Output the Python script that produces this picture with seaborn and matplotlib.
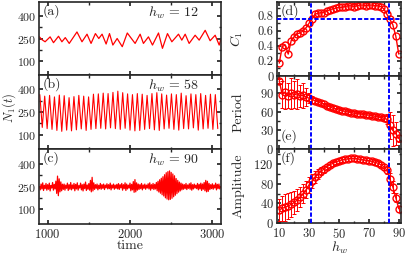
import numpy as np
import pandas as pd
import matplotlib
matplotlib.use("Agg")
import matplotlib.pyplot as plt
import seaborn as sns
from matplotlib.ticker import MultipleLocator, FixedLocator

# ---------------- data ----------------
# panel (a) h_w = 12 : extrema of N1(t)
ta = [900, 929, 969, 1030, 1071, 1132, 1173, 1214, 1262, 1356, 1417, 1478, 1527, 1580,
      1621, 1661, 1710, 1751, 1792, 1844, 1906, 1967, 2062, 2123, 2163, 2224, 2273, 2346,
      2394, 2455, 2508, 2589, 2629, 2670, 2718, 2791, 2840, 2913, 2973, 3034, 3083, 3100]
na = [261, 243, 228, 261, 222, 265, 228, 256, 217, 294, 228, 279, 217, 283,
      250, 279, 213, 283, 206, 250, 195, 287, 217, 279, 217, 261, 206, 287,
      184, 283, 228, 279, 239, 279, 217, 272, 239, 305, 235, 272, 206, 239]

# panel (b) h_w = 58 : alternating peaks / troughs
peaks_b = [365, 355, 360, 350, 362, 358, 345, 352, 360, 355, 350, 368, 370, 375, 372, 380,
           388, 378, 370, 365, 372, 368, 360, 372, 378, 370, 362, 370, 365, 375, 358, 370,
           365, 372, 360, 368, 365]
troughs_b = [148, 140, 135, 128, 122, 130, 125, 132, 138, 128, 135, 140, 142, 138, 145, 140,
             135, 142, 130, 125, 128, 135, 140, 132, 128, 138, 142, 135, 130, 140, 138, 145,
             130, 138, 142, 135, 140]
tb_start, tb_step = 905, 29.6

# panel (c) h_w = 90 : sampled every 10 time units from 900
nc = [250, 228, 266, 234, 274, 224, 258, 236, 270, 226,
      262, 232, 272, 221, 256, 240, 276, 226, 264, 234,
      285, 205, 318, 190, 300, 215, 280, 222, 265, 231,
      266, 226, 259, 238, 272, 224, 262, 232, 276, 228,
      260, 236, 270, 222, 264, 234, 274, 226, 256, 240,
      272, 228, 262, 221, 266, 236, 279, 224, 260, 232,
      269, 226, 290, 215, 310, 221, 274, 231, 262, 238,
      266, 228, 258, 236, 270, 232, 262, 238, 266, 230,
      259, 241, 268, 234, 262, 236, 272, 228, 260, 240,
      266, 232, 259, 238, 264, 234, 269, 231, 262, 241,
      270, 226, 262, 236, 274, 224, 266, 234, 259, 240,
      272, 222, 264, 228, 282, 212, 295, 215, 274, 226,
      266, 231, 262, 236, 270, 228, 260, 238, 266, 232,
      259, 240, 268, 234, 274, 226, 262, 236, 270, 230,
      264, 234, 276, 222, 284, 214, 294, 206, 304, 196,
      314, 188, 327, 176, 340, 168, 347, 163, 352, 166,
      342, 173, 332, 183, 320, 193, 302, 203, 290, 213,
      279, 221, 272, 228, 266, 232, 262, 236, 270, 230,
      260, 238, 268, 232, 274, 226, 262, 234, 266, 240,
      259, 236, 270, 228, 264, 234, 272, 224, 266, 232,
      276, 222, 290, 215, 284, 218, 270, 230, 262, 236,
      268, 232, 260, 240, 272, 228, 264, 236, 266, 234,
      250]

# right column
hw = list(range(10, 91, 2))
C1 = [0.17, 0.39, 0.41, 0.29, 0.47, 0.52, 0.56, 0.57, 0.60, 0.64, 0.70, 0.76, 0.82, 0.83,
      0.84, 0.84, 0.86, 0.88, 0.89, 0.90, 0.91, 0.91, 0.92, 0.93, 0.93, 0.92, 0.93, 0.94,
      0.94, 0.93, 0.94, 0.94, 0.93, 0.93, 0.92, 0.89, 0.82, 0.75, 0.68, 0.53, 0.29]
period = [110, 88, 92, 86, 90, 88, 89, 86, 87, 84, 82, 80, 78, 76, 74, 72, 70, 68, 66, 64,
          63, 62, 61, 60, 59, 58, 57, 57, 56, 55, 55, 54, 53, 52, 51, 50, 48, 38, 30, 25, 17]
period_err = [3, 22, 28, 20, 25, 22, 24, 18, 20, 14, 8, 5, 4, 4, 3, 3, 3, 3, 3, 3,
              3, 3, 3, 3, 3, 3, 3, 3, 3, 3, 3, 3, 3, 3, 3, 4, 8, 22, 25, 18, 6]
amp = [27, 30, 32, 35, 38, 42, 47, 53, 60, 68, 78, 86, 94, 100, 106, 110, 115, 119, 122, 125,
       127, 129, 130, 131, 132, 132, 131, 130, 129, 128, 127, 126, 124, 122, 119, 115, 108,
       90, 74, 52, 29]
amp_err = [22, 25, 28, 26, 25, 24, 22, 20, 20, 18, 16, 14, 12, 10, 8, 7, 5, 5, 5, 5,
           5, 5, 5, 5, 5, 5, 5, 5, 5, 5, 5, 5, 5, 5, 5, 6, 8, 12, 12, 10, 6]

hw_lines = [31.5, 83.5]
c1_line = 0.75
hw_labels = ["12", "58", "90"]

# ---------------- style ----------------
sns.set_theme(style="ticks")
plt.rcParams.update({
    "font.family": "serif",
    "font.serif": ["cmr10", "DejaVu Serif"],
    "mathtext.fontset": "cm",
    "axes.formatter.use_mathtext": True,
    "font.size": 9.5,
    "axes.linewidth": 1.2,
    "xtick.direction": "in",
    "ytick.direction": "in",
    "xtick.top": True,
    "ytick.right": True,
    "xtick.major.size": 3,
    "ytick.major.size": 3,
    "xtick.minor.size": 1.8,
    "ytick.minor.size": 1.8,
    "xtick.labelsize": 9.0,
    "ytick.labelsize": 9.0,
    "ytick.major.pad": 2.5,
    "xtick.major.pad": 3,
    "axes.unicode_minus": False,
})

W, H = 409, 256
fig = plt.figure(figsize=(W / 100, H / 100), dpi=100)

def box(x0, y0, x1, y1):
    return [x0 / W, 1 - y1 / H, (x1 - x0) / W, (y1 - y0) / H]

axa = fig.add_axes(box(39, 2, 221, 75))
axb = fig.add_axes(box(39, 75, 221, 149))
axc = fig.add_axes(box(39, 149, 221, 224))
axd = fig.add_axes(box(277, 2, 401, 76))
axe = fig.add_axes(box(277, 76, 401, 149))
axf = fig.add_axes(box(277, 149, 401, 223))

red = "#ff0000"

# left panels
tb, nb = [], []
for i, (p, q) in enumerate(zip(peaks_b, troughs_b)):
    tb.append(tb_start + 2 * i * tb_step)
    nb.append(p)
    tb.append(tb_start + (2 * i + 1) * tb_step)
    nb.append(q)
tc = list(np.arange(900, 900 + 10 * len(nc), 10))

series = [(axa, ta, na, 0.9), (axb, tb, nb, 0.8), (axc, tc, nc, 0.9)]
letters = ["(a)", "(b)", "(c)"]
for k, (ax, t, n, lw) in enumerate(series):
    df = pd.DataFrame({"t": t, "n": n})
    sns.lineplot(data=df, x="t", y="n", ax=ax, color=red, lw=lw, estimator=None, sort=False,
                 solid_joinstyle="round")
    ax.set_xlim(895, 3105)
    ax.set_ylim(5, 495)
    ax.yaxis.set_major_locator(FixedLocator([100, 250, 400]))
    ax.yaxis.set_minor_locator(FixedLocator([175, 325]))
    ax.xaxis.set_major_locator(MultipleLocator(1000))
    ax.xaxis.set_minor_locator(MultipleLocator(500))
    ax.tick_params(axis="y", labelsize=8.6, pad=2)
    ax.set_xlabel("")
    ax.set_ylabel("")
    ax.text(0.02, 0.97, letters[k], transform=ax.transAxes, ha="left", va="top", fontsize=10)
    ax.text(0.88, 0.97, r"$h_w$ = " + hw_labels[k], transform=ax.transAxes, ha="right",
            va="top", fontsize=10)
    if k < 2:
        ax.tick_params(labelbottom=False)
axc.set_xlabel("time", fontsize=10, labelpad=-1)
fig.text(0.5 / W, 1 - 108 / H, r"$N_1(t)$", rotation=90, ha="left", va="center", fontsize=9)

# right panels
dfr = pd.DataFrame({"hw": hw, "C1": C1, "period": period, "amp": amp})
blue = "#0000ff"
dash = (0, (2.2, 1.0))

sns.lineplot(data=dfr, x="hw", y="C1", ax=axd, color=red, lw=1.0, marker="o", ms=5,
             mfc="none", mec=red, mew=1.0, estimator=None)
axe.errorbar(hw, period, yerr=period_err, fmt="none", ecolor=red, elinewidth=0.7,
             capsize=1.5, capthick=0.7)
sns.lineplot(data=dfr, x="hw", y="period", ax=axe, color=red, lw=1.0, marker="o", ms=5,
             mfc="none", mec=red, mew=1.0, estimator=None)
axf.errorbar(hw, amp, yerr=amp_err, fmt="none", ecolor=red, elinewidth=0.7,
             capsize=1.5, capthick=0.7)
sns.lineplot(data=dfr, x="hw", y="amp", ax=axf, color=red, lw=1.0, marker="o", ms=5,
             mfc="none", mec=red, mew=1.0, estimator=None)

for ax in (axd, axe, axf):
    ax.set_xlim(8.5, 91.5)
    ax.xaxis.set_major_locator(FixedLocator([10, 30, 50, 70, 90]))
    ax.xaxis.set_minor_locator(FixedLocator([20, 40, 60, 80]))
    for xv in hw_lines:
        ax.axvline(xv, color=blue, lw=1.4, ls=dash, zorder=3)
    ax.set_xlabel("")
axd.axhline(c1_line, color=blue, lw=1.4, ls=dash, zorder=3)

axd.set_ylim(0, 0.98)
axd.yaxis.set_major_locator(FixedLocator([0, 0.2, 0.4, 0.6, 0.8]))
axd.yaxis.set_minor_locator(FixedLocator([0.1, 0.3, 0.5, 0.7, 0.9]))
axd.set_yticklabels(["0", "0.2", "0.4", "0.6", "0.8"])
axe.set_ylim(0, 118)
axe.yaxis.set_major_locator(FixedLocator([0, 30, 60, 90]))
axe.yaxis.set_minor_locator(FixedLocator([15, 45, 75, 105]))
axf.set_ylim(0, 151)
axf.yaxis.set_major_locator(FixedLocator([0, 40, 80, 120]))
axf.yaxis.set_minor_locator(FixedLocator([20, 60, 100, 140]))
axd.tick_params(labelbottom=False)
axe.tick_params(labelbottom=False)

axd.set_ylabel(r"$C_1$", fontsize=10, labelpad=3)
axe.set_ylabel("Period", fontsize=10, labelpad=3)
axf.set_ylabel("Amplitude", fontsize=10, labelpad=3)
axf.set_xlabel(r"$h_w$", fontsize=10, labelpad=-1)
for ax in (axd, axe, axf):
    ax.yaxis.set_label_coords(-0.26, 0.5)

axd.text(0.03, 0.97, "(d)", transform=axd.transAxes, ha="left", va="top", fontsize=10)
axe.text(0.03, 0.08, "(e)", transform=axe.transAxes, ha="left", va="bottom", fontsize=10)
axf.text(0.03, 0.97, "(f)", transform=axf.transAxes, ha="left", va="top", fontsize=10)

fig.savefig("out.png", dpi=100)
